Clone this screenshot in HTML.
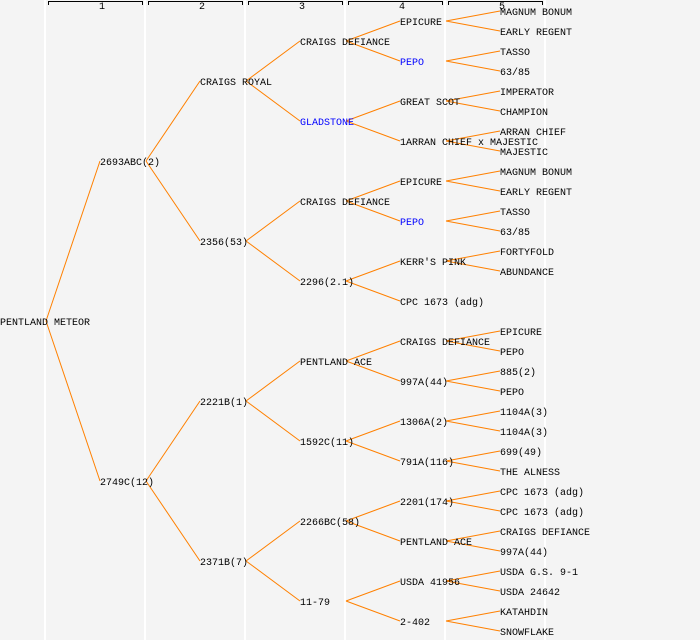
<!DOCTYPE html>
<html><head><style>html,body{margin:0;padding:0;background:#f4f4f4}svg{display:block}text{font-family:"Liberation Mono",monospace;font-size:10px}</style></head><body>
<svg width="700" height="640" xmlns="http://www.w3.org/2000/svg">
<rect width="700" height="640" fill="#f4f4f4"/>
<g stroke="#fff" stroke-width="2">
<line x1="45" y1="0" x2="45" y2="640"/><line x1="145" y1="0" x2="145" y2="640"/><line x1="245" y1="0" x2="245" y2="640"/><line x1="345" y1="0" x2="345" y2="640"/><line x1="445" y1="0" x2="445" y2="640"/><line x1="545" y1="0" x2="545" y2="640"/>
</g>
<g stroke="#000" fill="none" stroke-width="1">
<path d="M48.5 5V1.5H142.5V5"/><path d="M148.5 5V1.5H242.5V5"/><path d="M248.5 5V1.5H342.5V5"/><path d="M348.5 5V1.5H442.5V5"/><path d="M448.5 5V1.5H542.5V5"/>
</g>
<g style="font-size:8px" text-anchor="middle"><text x="102" y="9">1</text><text x="202" y="9">2</text><text x="302" y="9">3</text><text x="402" y="9">4</text><text x="502" y="9">5</text></g>
<g stroke="#ff8000" stroke-width="1" fill="none">
<path d="M46 321L100 161M46 321L100 481"/>
<path d="M146 161L200 81M146 161L200 241M146 481L200 401M146 481L200 561"/>
<path d="M246 81L300 41M246 81L300 121M246 241L300 201M246 241L300 281M246 401L300 361M246 401L300 441M246 561L300 521M246 561L300 601"/>
<path d="M346 41L400 21M346 41L400 61M346 121L400 101M346 121L400 141M346 201L400 181M346 201L400 221M346 281L400 261M346 281L400 301M346 361L400 341M346 361L400 381M346 441L400 421M346 441L400 461M346 521L400 501M346 521L400 541M346 601L400 581M346 601L400 621"/>
<path d="M446 21L500 11M446 21L500 31M446 61L500 51M446 61L500 71M446 101L500 91M446 101L500 111M446 141L500 131M446 141L500 151M446 181L500 171M446 181L500 191M446 221L500 211M446 221L500 231M446 261L500 251M446 261L500 271M446 341L500 331M446 341L500 351M446 381L500 371M446 381L500 391M446 421L500 411M446 421L500 431M446 461L500 451M446 461L500 471M446 501L500 491M446 501L500 511M446 541L500 531M446 541L500 551M446 581L500 571M446 581L500 591M446 621L500 611M446 621L500 631"/>
</g>
<g fill="#000" transform="translate(0,-1)">
<text x="0" y="326">PENTLAND METEOR</text>
<text x="100" y="166">2693ABC(2)</text><text x="100" y="486">2749C(12)</text>
<text x="200" y="86">CRAIGS ROYAL</text><text x="200" y="246">2356(53)</text><text x="200" y="406">2221B(1)</text><text x="200" y="566">2371B(7)</text>
<text x="300" y="46">CRAIGS DEFIANCE</text><text x="300" y="126" fill="#0000ff">GLADSTONE</text><text x="300" y="206">CRAIGS DEFIANCE</text><text x="300" y="286">2296(2.1)</text><text x="300" y="366">PENTLAND ACE</text><text x="300" y="446">1592C(11)</text><text x="300" y="526">2266BC(58)</text><text x="300" y="606">11-79</text>
<text x="400" y="26">EPICURE</text><text x="400" y="66" fill="#0000ff">PEPO</text><text x="400" y="106">GREAT SCOT</text><text x="400" y="146">1ARRAN CHIEF x MAJESTIC</text><text x="400" y="186">EPICURE</text><text x="400" y="226" fill="#0000ff">PEPO</text><text x="400" y="266">KERR'S PINK</text><text x="400" y="306">CPC 1673 (adg)</text><text x="400" y="346">CRAIGS DEFIANCE</text><text x="400" y="386">997A(44)</text><text x="400" y="426">1306A(2)</text><text x="400" y="466">791A(116)</text><text x="400" y="506">2201(174)</text><text x="400" y="546">PENTLAND ACE</text><text x="400" y="586">USDA 41956</text><text x="400" y="626">2-402</text>
<text x="500" y="16">MAGNUM BONUM</text><text x="500" y="36">EARLY REGENT</text><text x="500" y="56">TASSO</text><text x="500" y="76">63/85</text><text x="500" y="96">IMPERATOR</text><text x="500" y="116">CHAMPION</text><text x="500" y="136">ARRAN CHIEF</text><text x="500" y="156">MAJESTIC</text><text x="500" y="176">MAGNUM BONUM</text><text x="500" y="196">EARLY REGENT</text><text x="500" y="216">TASSO</text><text x="500" y="236">63/85</text><text x="500" y="256">FORTYFOLD</text><text x="500" y="276">ABUNDANCE</text>
<text x="500" y="336">EPICURE</text><text x="500" y="356">PEPO</text><text x="500" y="376">885(2)</text><text x="500" y="396">PEPO</text><text x="500" y="416">1104A(3)</text><text x="500" y="436">1104A(3)</text><text x="500" y="456">699(49)</text><text x="500" y="476">THE ALNESS</text><text x="500" y="496">CPC 1673 (adg)</text><text x="500" y="516">CPC 1673 (adg)</text><text x="500" y="536">CRAIGS DEFIANCE</text><text x="500" y="556">997A(44)</text><text x="500" y="576">USDA G.S. 9-1</text><text x="500" y="596">USDA 24642</text><text x="500" y="616">KATAHDIN</text><text x="500" y="636">SNOWFLAKE</text>
</g>
</svg>
</body></html>
